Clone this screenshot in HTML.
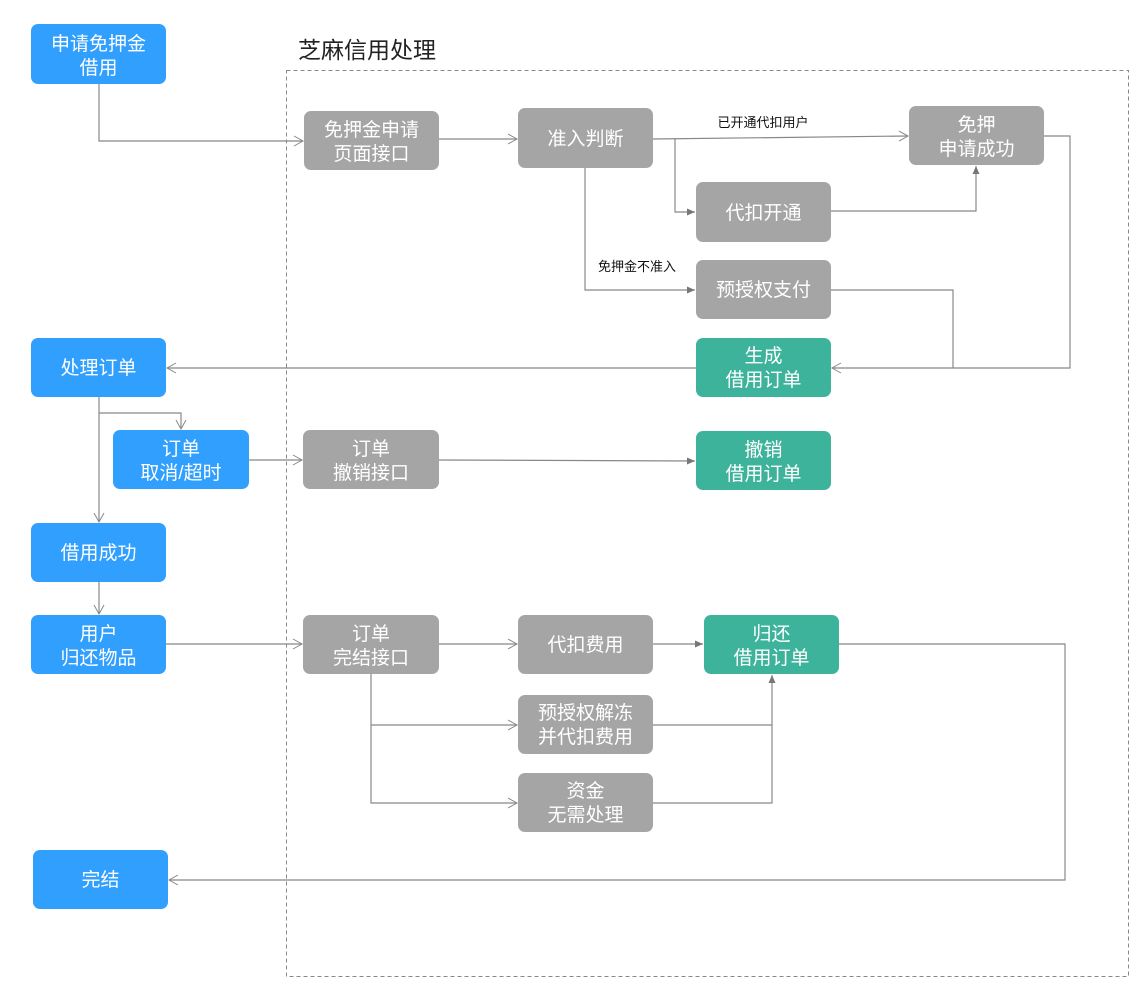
<!DOCTYPE html>
<html><head><meta charset="utf-8"><style>
body{margin:0;background:#fff;}
svg text{font-family:"Liberation Sans","Noto Sans CJK SC",sans-serif;}
</style></head><body>
<svg width="1138" height="1002" viewBox="0 0 1138 1002" xmlns="http://www.w3.org/2000/svg">
<defs>
<marker id="o" markerWidth="12" markerHeight="12" refX="10" refY="6" orient="auto" markerUnits="userSpaceOnUse"><path d="M1,1 L10,6 L1,11" fill="none" stroke="#888" stroke-width="1"/></marker>
<marker id="f" markerWidth="10" markerHeight="10" refX="9" refY="5" orient="auto" markerUnits="userSpaceOnUse"><path d="M1,1.5 L9,5 L1,8.5 Z" fill="#777"/></marker>
</defs>
<rect x="286.5" y="70.5" width="842" height="906" fill="none" stroke="#888" stroke-dasharray="4,3"/>
<text x="298" y="58" font-size="23" fill="#222">芝麻信用处理</text>
<g fill="none" stroke="#888" stroke-width="1.2">
<path d="M99,84 V141 H303" marker-end="url(#o)"/>
<path d="M439,139 H517" marker-end="url(#o)"/>
<path d="M653,139 L908,136" marker-end="url(#o)"/>
<path d="M675,139 V212 H695" marker-end="url(#f)"/>
<path d="M831,211 H976 V166" marker-end="url(#f)"/>
<path d="M585,168 V290 H695" marker-end="url(#f)"/>
<path d="M831,290 H953 V368"/>
<path d="M1044,136 H1070 V368 H832" marker-end="url(#o)"/>
<path d="M696,368 H167" marker-end="url(#o)"/>
<path d="M99,397 V522" marker-end="url(#o)"/>
<path d="M99,413 H181 V429" marker-end="url(#o)"/>
<path d="M249,460 H302" marker-end="url(#o)"/>
<path d="M439,460 L695,461" marker-end="url(#f)"/>
<path d="M99,582 V614" marker-end="url(#o)"/>
<path d="M166,644 H302" marker-end="url(#o)"/>
<path d="M439,644 H517" marker-end="url(#o)"/>
<path d="M653,644 H703" marker-end="url(#f)"/>
<path d="M371,674 V803 H517" marker-end="url(#o)"/>
<path d="M371,725 H517" marker-end="url(#o)"/>
<path d="M653,725 H772"/>
<path d="M653,803 H772 V675" marker-end="url(#f)"/>
<path d="M839,644 H1065 V880 H169" marker-end="url(#o)"/>
</g>
<text x="763" y="127" font-size="13" fill="#111" text-anchor="middle">已开通代扣用户</text>
<text x="637" y="271" font-size="13" fill="#111" text-anchor="middle">免押金不准入</text>
<g font-size="19" fill="#fff" text-anchor="middle">
<rect x="31" y="24" width="135" height="60" rx="7" fill="#309ffe"/><text x="98.5" y="50">申请免押金</text><text x="98.5" y="74">借用</text>
<rect x="304" y="111" width="135" height="59" rx="7" fill="#a5a5a5"/><text x="371.5" y="136">免押金申请</text><text x="371.5" y="160">页面接口</text>
<rect x="518" y="108" width="135" height="60" rx="7" fill="#a5a5a5"/><text x="585.5" y="145">准入判断</text>
<rect x="909" y="106" width="135" height="59" rx="7" fill="#a5a5a5"/><text x="976.5" y="131">免押</text><text x="976.5" y="155">申请成功</text>
<rect x="696" y="182" width="135" height="60" rx="7" fill="#a5a5a5"/><text x="763.5" y="219">代扣开通</text>
<rect x="696" y="260" width="135" height="59" rx="7" fill="#a5a5a5"/><text x="763.5" y="296">预授权支付</text>
<rect x="31" y="338" width="135" height="59" rx="7" fill="#309ffe"/><text x="98.5" y="374">处理订单</text>
<rect x="696" y="338" width="135" height="59" rx="7" fill="#3db39c"/><text x="763.5" y="362">生成</text><text x="763.5" y="386">借用订单</text>
<rect x="113" y="430" width="136" height="59" rx="7" fill="#309ffe"/><text x="181" y="455">订单</text><text x="181" y="479">取消/超时</text>
<rect x="303" y="430" width="136" height="59" rx="7" fill="#a5a5a5"/><text x="371" y="455">订单</text><text x="371" y="479">撤销接口</text>
<rect x="696" y="431" width="135" height="59" rx="7" fill="#3db39c"/><text x="763.5" y="456">撤销</text><text x="763.5" y="480">借用订单</text>
<rect x="31" y="523" width="135" height="59" rx="7" fill="#309ffe"/><text x="98.5" y="559">借用成功</text>
<rect x="31" y="615" width="135" height="59" rx="7" fill="#309ffe"/><text x="98.5" y="640">用户</text><text x="98.5" y="664">归还物品</text>
<rect x="303" y="615" width="136" height="59" rx="7" fill="#a5a5a5"/><text x="371" y="640">订单</text><text x="371" y="664">完结接口</text>
<rect x="518" y="615" width="135" height="59" rx="7" fill="#a5a5a5"/><text x="585.5" y="651">代扣费用</text>
<rect x="704" y="615" width="135" height="59" rx="7" fill="#3db39c"/><text x="771.5" y="640">归还</text><text x="771.5" y="664">借用订单</text>
<rect x="518" y="695" width="135" height="59" rx="7" fill="#a5a5a5"/><text x="585.5" y="719">预授权解冻</text><text x="585.5" y="743">并代扣费用</text>
<rect x="518" y="773" width="135" height="59" rx="7" fill="#a5a5a5"/><text x="585.5" y="797">资金</text><text x="585.5" y="821">无需处理</text>
<rect x="33" y="850" width="135" height="59" rx="7" fill="#309ffe"/><text x="100.5" y="886">完结</text>
</g>
</svg>
</body></html>
